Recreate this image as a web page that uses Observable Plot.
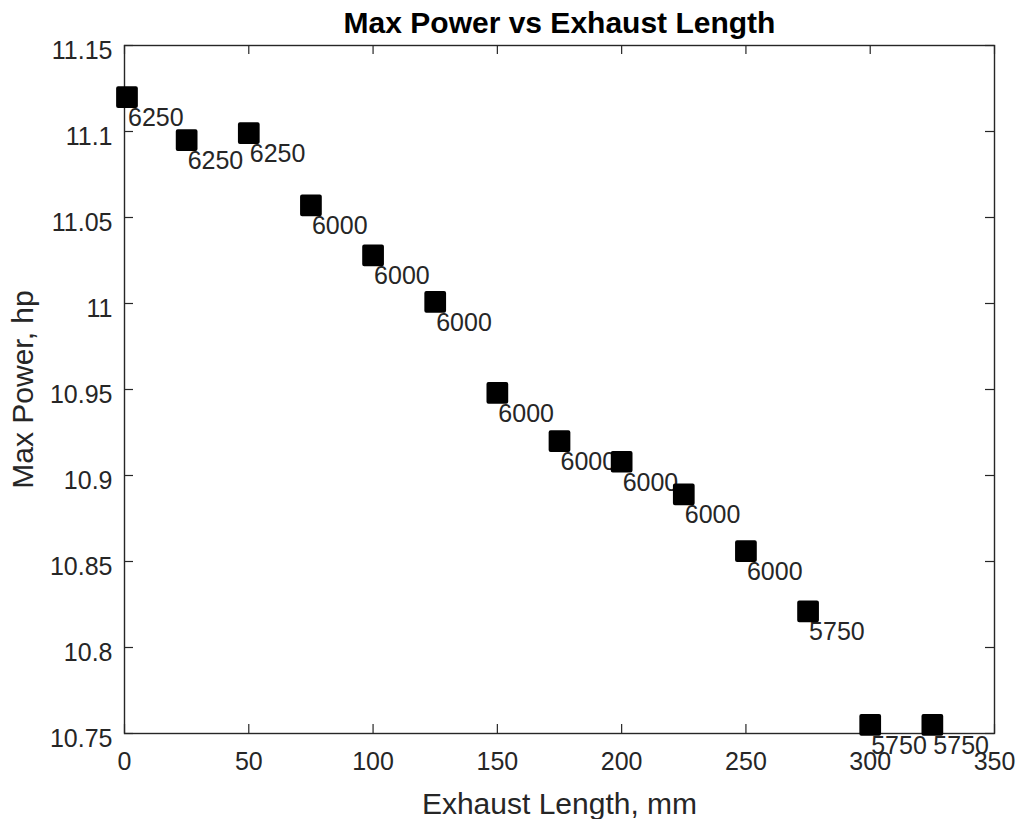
<!DOCTYPE html>
<html>
<head>
<meta charset="utf-8">
<script src="https://cdn.jsdelivr.net/npm/d3@7"></script>
<script src="https://cdn.jsdelivr.net/npm/@observablehq/plot@0.6"></script>
<style>
  html, body { margin: 0; padding: 0; background: #fff; }
  #chart svg { display: block; }
</style>
</head>
<body>
<div id="chart"></div>
<script>
// Data
const exhaustLength = [1, 25, 50, 75, 100, 125, 150, 175, 200, 225, 250, 275, 300, 325];
const maxPower = [11.120, 11.095, 11.099, 11.057, 11.028, 11.001, 10.948, 10.920, 10.908, 10.889, 10.856, 10.821, 10.755, 10.755];
const rpmLabels = ["6250", "6250", "6250", "6000", "6000", "6000", "6000", "6000", "6000", "6000", "6000", "5750", "5750", "5750"];
const xTicks = [0, 50, 100, 150, 200, 250, 300, 350];
const yTicks = [10.75, 10.8, 10.85, 10.9, 10.95, 11, 11.05, 11.1, 11.15];
const titleText = "Max Power vs Exhaust Length";
const xLabelText = "Exhaust Length, mm";
const yLabelText = "Max Power, hp";

const data = exhaustLength.map((x, i) => ({x, y: maxPower[i], label: rpmLabels[i]}));

const W = 1016, H = 819;
const mL = 124, mR = 22, mT = 45, mB = 86;
const fw = W - mL - mR, fh = H - mT - mB;
const tick = 9;
const axisColor = "#262626";
const font = "'Liberation Sans', Arial, Helvetica, sans-serif";

const chart = Plot.plot({
  width: W,
  height: H,
  marginLeft: mL,
  marginRight: mR,
  marginTop: mT,
  marginBottom: mB,
  style: {fontFamily: font, background: "#fff", overflow: "visible"},
  x: {domain: [0, 350], label: null},
  y: {domain: [10.75, 11.15], label: null},
  marks: [
    Plot.frame({stroke: axisColor, strokeWidth: 1.4}),
    // inward tick marks on all four sides
    Plot.tickX(xTicks, {x: d => d, stroke: axisColor, strokeWidth: 1.2, insetTop: fh - tick}),
    Plot.tickX(xTicks, {x: d => d, stroke: axisColor, strokeWidth: 1.2, insetBottom: fh - tick}),
    Plot.tickY(yTicks, {y: d => d, stroke: axisColor, strokeWidth: 1.2, insetRight: fw - tick}),
    Plot.tickY(yTicks, {y: d => d, stroke: axisColor, strokeWidth: 1.2, insetLeft: fw - tick}),
    // tick labels
    Plot.axisX(xTicks, {tickSize: 0, tickPadding: 19, fontSize: 25, color: axisColor, label: null, tickFormat: d => String(d)}),
    Plot.axisY(yTicks, {tickSize: 0, tickPadding: 12, dy: 5, fontSize: 25, color: axisColor, label: null, tickFormat: d => String(d)}),
    // point labels (drawn below the markers)
    Plot.text(data, {x: "x", y: "y", text: "label", textAnchor: "start", dx: 1, dy: 21, fontSize: 25, fill: axisColor}),
    // markers
    Plot.dot(data, {x: "x", y: "y", symbol: "square", r: 10, fill: "#000", stroke: "#000", strokeWidth: 4, strokeLinejoin: "round"}),
    // title and axis labels
    Plot.text([titleText], {frameAnchor: "top", textAnchor: "middle", lineAnchor: "bottom", dy: -13, fontSize: 30, fontWeight: "bold", fill: "#000", text: d => d}),
    Plot.text([xLabelText], {frameAnchor: "bottom", textAnchor: "middle", lineAnchor: "bottom", dy: 80, fontSize: 30, fill: axisColor, text: d => d}),
    Plot.text([yLabelText], {frameAnchor: "left", textAnchor: "middle", lineAnchor: "bottom", rotate: -90, dx: -92, fontSize: 30, fill: axisColor, text: d => d})
  ]
});
document.getElementById("chart").appendChild(chart);
</script>
</body>
</html>
